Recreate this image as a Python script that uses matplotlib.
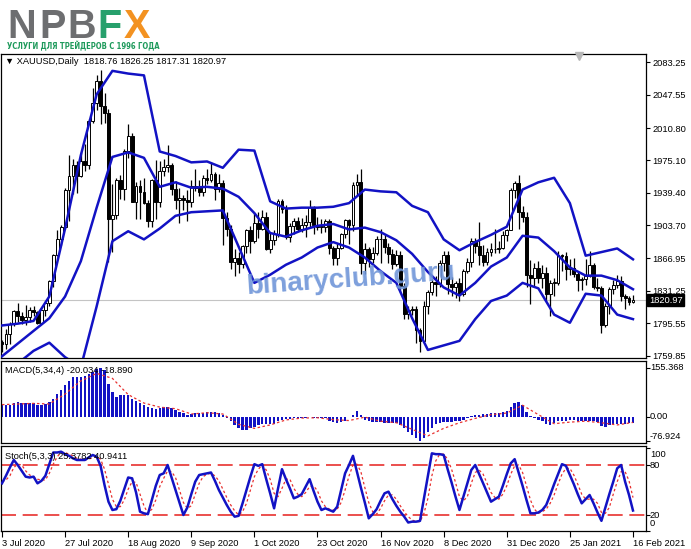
import matplotlib
matplotlib.use('Agg')
import numpy as np
import matplotlib.pyplot as plt
from matplotlib import font_manager
from matplotlib.transforms import blended_transform_factory

plt.rcParams['font.family'] = ['Liberation Sans', 'DejaVu Sans']

#%% DATA — XAUUSD daily, 3 Jul 2020 .. 16 Feb 2021

date_labels = ['3 Jul 2020', '27 Jul 2020', '18 Aug 2020', '9 Sep 2020', '1 Oct 2020',
               '23 Oct 2020', '16 Nov 2020', '8 Dec 2020', '31 Dec 2020', '25 Jan 2021',
               '16 Feb 2021']

opens = [1775, 1772, 1784, 1795, 1809, 1803, 1799, 1802, 1810, 1808,
         1796, 1810, 1818, 1842, 1871, 1888, 1902, 1942, 1958, 1970,
         1958, 1975, 1970, 2019, 2038, 2063, 2035, 2028, 1911, 1915,
         1954, 1944, 1985, 2002, 1929, 1947, 1940, 1928, 1908, 1954,
         1929, 1964, 1968, 1970, 1944, 1931, 1934, 1932, 1929, 1947,
         1945, 1940, 1956, 1954, 1960, 1944, 1950, 1912, 1900, 1863,
         1868, 1861, 1881, 1898, 1886, 1906, 1900, 1913, 1877, 1887,
         1894, 1930, 1922, 1891, 1903, 1908, 1899, 1904, 1907, 1924,
         1904, 1902, 1902, 1908, 1878, 1868, 1878, 1894, 1909, 1904,
         1948, 1951, 1862, 1877, 1866, 1873, 1888, 1888, 1880, 1872,
         1861, 1871, 1837, 1806, 1810, 1811, 1788, 1776, 1815, 1830,
         1841, 1839, 1862, 1871, 1839, 1836, 1840, 1828, 1853, 1863,
         1886, 1881, 1871, 1863, 1874, 1877, 1877, 1879, 1893, 1898,
         1943, 1950, 1918, 1913, 1849, 1845, 1856, 1845, 1851, 1828,
         1840, 1840, 1871, 1870, 1855, 1856, 1850, 1843, 1844, 1848,
         1860, 1835, 1834, 1794, 1814, 1833, 1838, 1842, 1825, 1823,
         1818.76]
highs = [1777, 1789, 1797, 1810, 1818, 1808, 1816, 1813, 1815, 1809,
         1812, 1820, 1843, 1872, 1898, 1904, 1945, 1981, 1977, 1975,
         1984, 1993, 2021, 2055, 2069, 2075, 2050, 2032, 1949, 1956,
         1959, 1988, 2015, 2005, 1951, 1953, 1956, 1932, 1955, 1976,
         1975, 1977, 1992, 1972, 1952, 1945, 1937, 1943, 1953, 1966,
         1953, 1959, 1966, 1973, 1962, 1960, 1953, 1918, 1904, 1877,
         1874, 1882, 1900, 1903, 1917, 1918, 1920, 1918, 1895, 1898,
         1933, 1933, 1926, 1906, 1912, 1913, 1912, 1915, 1931, 1925,
         1913, 1910, 1911, 1911, 1881, 1884, 1895, 1911, 1910, 1951,
         1960, 1966, 1884, 1880, 1880, 1892, 1900, 1894, 1884, 1877,
         1876, 1875, 1840, 1815, 1815, 1814, 1790, 1820, 1832, 1844,
         1848, 1865, 1875, 1875, 1847, 1842, 1845, 1855, 1867, 1890,
         1889, 1907, 1882, 1878, 1884, 1900, 1886, 1897, 1900, 1945,
         1952, 1959, 1925, 1918, 1865, 1862, 1864, 1860, 1858, 1843,
         1845, 1875, 1872, 1874, 1866, 1867, 1853, 1847, 1866, 1875,
         1862, 1845, 1837, 1818, 1835, 1843, 1849, 1848, 1828, 1825,
         1826.25]
lows = [1764, 1767, 1773, 1792, 1797, 1795, 1793, 1797, 1804, 1795,
        1796, 1804, 1815, 1836, 1870, 1882, 1899, 1908, 1938, 1939,
        1957, 1963, 1966, 2016, 2031, 2015, 2016, 1863, 1874, 1910,
        1933, 1932, 1978, 1929, 1911, 1910, 1927, 1902, 1902, 1911,
        1924, 1958, 1962, 1937, 1921, 1906, 1920, 1908, 1924, 1941,
        1936, 1936, 1949, 1951, 1932, 1940, 1882, 1892, 1855, 1848,
        1851, 1856, 1873, 1873, 1884, 1890, 1898, 1876, 1873, 1882,
        1891, 1917, 1888, 1885, 1894, 1897, 1896, 1891, 1901, 1894,
        1898, 1895, 1896, 1872, 1860, 1860, 1877, 1889, 1883, 1897,
        1937, 1850, 1850, 1858, 1862, 1871, 1862, 1873, 1862, 1855,
        1859, 1830, 1800, 1800, 1805, 1774, 1764, 1776, 1806, 1827,
        1826, 1836, 1853, 1828, 1826, 1823, 1820, 1825, 1851, 1858,
        1873, 1860, 1859, 1860, 1870, 1873, 1873, 1877, 1886, 1898,
        1934, 1900, 1907, 1836, 1817, 1836, 1840, 1834, 1820, 1803,
        1826, 1838, 1853, 1843, 1849, 1846, 1831, 1832, 1838, 1846,
        1833, 1831, 1785, 1791, 1806, 1828, 1834, 1820, 1811, 1816,
        1817.31]
closes = [1772, 1784, 1795, 1809, 1803, 1799, 1802, 1810, 1808, 1796,
          1810, 1818, 1842, 1871, 1888, 1902, 1942, 1958, 1970, 1958,
          1975, 1970, 2019, 2038, 2063, 2035, 2028, 1911, 1915, 1954,
          1944, 1985, 2002, 1929, 1947, 1940, 1928, 1908, 1954, 1929,
          1964, 1968, 1970, 1944, 1931, 1934, 1932, 1929, 1947, 1945,
          1940, 1956, 1954, 1960, 1944, 1950, 1912, 1900, 1863, 1868,
          1861, 1881, 1898, 1886, 1906, 1900, 1913, 1877, 1887, 1894,
          1930, 1922, 1891, 1903, 1908, 1899, 1904, 1907, 1924, 1904,
          1902, 1902, 1908, 1878, 1868, 1878, 1894, 1909, 1904, 1948,
          1951, 1862, 1877, 1866, 1873, 1888, 1888, 1880, 1872, 1861,
          1871, 1837, 1806, 1810, 1811, 1788, 1776, 1815, 1830, 1841,
          1839, 1862, 1871, 1839, 1836, 1840, 1828, 1853, 1863, 1886,
          1881, 1871, 1863, 1874, 1877, 1877, 1879, 1893, 1898, 1943,
          1950, 1918, 1913, 1849, 1845, 1856, 1845, 1851, 1828, 1840,
          1840, 1871, 1870, 1855, 1856, 1850, 1843, 1844, 1848, 1860,
          1835, 1834, 1794, 1814, 1833, 1838, 1842, 1825, 1823, 1819,
          1820.97]

# Bollinger bands, read every 4th bar
bb_step = 4
bb_upper = [1793, 1795, 1798, 1825, 1900, 1981, 2048, 2074, 2071, 2069,
            1985, 1980, 1973, 1974, 1967, 1987, 1986, 1930, 1922, 1923,
            1923, 1924, 1928, 1943, 1941, 1940, 1925, 1918, 1888, 1876,
            1885, 1893, 1902, 1943, 1951, 1956, 1928, 1870, 1874, 1878,
            1866]
bb_mid = [1759, 1773, 1787, 1801, 1825, 1864, 1923, 1979, 1984, 1978,
          1946, 1951, 1945, 1946, 1944, 1935, 1917, 1895, 1891, 1898,
          1903, 1905, 1899, 1901, 1896, 1887, 1872, 1852, 1835, 1826,
          1840, 1858, 1868, 1892, 1890, 1875, 1857, 1848, 1848, 1843,
          1833]
bb_lower = [1731, 1751, 1765, 1774, 1758, 1747, 1814, 1886, 1897, 1888,
            1900, 1914, 1918, 1919, 1920, 1880, 1840, 1849, 1860, 1868,
            1879, 1885, 1879, 1868, 1853, 1840, 1801, 1766, 1771, 1776,
            1800, 1820, 1826, 1840, 1834, 1805, 1796, 1828, 1826, 1805,
            1800]

price_ticks = [2083.25, 2047.55, 2010.80, 1975.10, 1939.40, 1903.70,
               1866.95, 1831.25, 1795.55, 1759.85]

# MACD(5,34,4): histogram per bar, signal read every 4th bar
macd_hist = [36, 36, 38, 43, 45, 44, 43, 43, 42, 38,
             38, 40, 47, 57, 72, 86, 101, 115, 125, 127,
             128, 131, 136, 142, 152, 155.368, 149, 104, 78, 64,
             68, 70, 68, 57, 51, 44, 36, 30, 27, 25,
             27, 30, 32, 27, 21, 15, 11, 6, 8, 11,
             11, 12, 15, 15, 15, 12, 6, -6, -15, -27,
             -38, -44, -44, -38, -32, -27, -25, -23, -25, -23,
             -15, -11, -8, -7, -6, -5, -6, -4, -3, -4,
             -4, -4, -6, -13, -19, -21, -19, -15, -2, 6,
             17, 6, -10, -15, -17, -17, -19, -20, -20, -22,
             -22, -27, -38, -49, -59, -68, -76.924, -68, -49, -36,
             -25, -22, -19, -18, -16, -15, -13, -11, -6, 2,
             6, 6, 7, 8, 10, 11, 12, 13, 19, 30,
             44, 45, 38, 15, 2, -5, -10, -15, -25, -26,
             -22, -15, -13, -13, -11, -12, -13, -15, -15, -14,
             -15, -19, -30, -33, -27, -24, -25, -23, -23, -22,
             -20.034]
macd_signal = [38, 40, 42, 40, 72, 114, 138, 122, 70, 43,
               30, 25, 8, 12, 8, -25, -38, -27, -11, -5,
               -4, -10, -13, -2, -15, -20, -41, -62, -38, -20,
               -6, 6, 11, 36, 6, -23, -18, -15, -20, -27,
               -18.89]

# Stochastic(5,3,3)
stoch_main = [58, 67, 77, 86, 80, 73, 66, 65, 66, 58,
              61, 67, 81, 95, 95, 96, 93, 91, 88, 86,
              86, 86, 89, 92, 90, 79, 56, 36, 26, 27,
              37, 51, 65, 64, 47, 24, 22, 21, 38, 55,
              68, 70, 80, 65, 50, 35, 20, 29, 45, 60,
              68, 69, 70, 71, 61, 50, 41, 32, 24, 18,
              19, 34, 50, 66, 81, 79, 81, 63, 46, 28,
              52, 75, 63, 52, 40, 42, 45, 54, 63, 49,
              36, 26, 28, 26, 24, 30, 50, 70, 80, 91,
              72, 53, 35, 16, 21, 27, 37, 46, 48, 39,
              31, 24, 18, 11, 12, 12, 13, 40, 67, 94,
              93, 93, 92, 75, 59, 42, 26, 42, 58, 74,
              80, 69, 58, 47, 36, 39, 42, 55, 69, 82,
              87, 71, 55, 38, 22, 22, 23, 26, 32, 44,
              57, 69, 81, 79, 68, 57, 45, 34, 39, 44,
              34, 23, 13, 29, 45, 60, 76, 80, 60, 44,
              25.3782]
stoch_signal = [60, 62, 67, 77, 81, 80, 73, 68, 66, 63,
                62, 62, 70, 81, 90, 95, 95, 93, 91, 88,
                87, 86, 87, 89, 90, 87, 75, 57, 39, 30,
                30, 38, 51, 60, 59, 45, 31, 22, 27, 38,
                54, 64, 73, 72, 65, 50, 35, 28, 31, 45,
                58, 66, 69, 70, 67, 61, 51, 41, 32, 25,
                20, 24, 34, 50, 66, 75, 80, 74, 63, 46,
                42, 52, 63, 63, 52, 45, 42, 47, 54, 55,
                49, 37, 30, 27, 26, 27, 35, 50, 67, 80,
                81, 72, 53, 35, 24, 21, 28, 37, 44, 44,
                39, 31, 24, 18, 14, 12, 12, 22, 40, 67,
                85, 93, 93, 87, 75, 59, 42, 37, 42, 58,
                71, 74, 69, 58, 47, 41, 39, 45, 55, 69,
                79, 80, 71, 55, 38, 27, 22, 24, 27, 34,
                44, 57, 69, 76, 76, 68, 57, 45, 39, 39,
                39, 34, 23, 22, 29, 45, 60, 72, 72, 61,
                40.9411]

#%% FIGURE

W, H = 691, 549
fig = plt.figure(figsize=(W / 100, H / 100), dpi=100)
fig.patch.set_facecolor('white')

def px_axes(x0, y0, x1, y1):
    return fig.add_axes([x0 / W, 1 - y1 / H, (x1 - x0) / W, (y1 - y0) / H])

ax_p = px_axes(1, 54, 646, 358)
ax_m = px_axes(1, 361, 646, 443)
ax_s = px_axes(1, 446, 646, 531)

BLUE = '#1212c4'
RED = '#e8312f'
FS = 6.7

x = np.arange(len(closes))
bb_x = np.arange(0, len(closes), bb_step)
o, h, l, c = (np.array(v, dtype=float) for v in (opens, highs, lows, closes))

for ax in (ax_p, ax_m, ax_s):
    ax.set_xlim(-0.25, 163.3)
    for sp in ax.spines.values():
        sp.set_color('black')
        sp.set_linewidth(0.9)
    ax.yaxis.tick_right()
    ax.tick_params(axis='y', length=3, width=0.8, pad=1.5, labelsize=FS, colors='black')

# main: candles + bands
up = c >= o
body_lo = np.minimum(o, c)
body_h = np.maximum(np.abs(c - o), 0.8)
ax_p.axhline(c[-1], color='#c4c4c4', lw=0.8, zorder=1)
ax_p.vlines(x, l, h, color='black', lw=0.9, zorder=2)
ax_p.bar(x[up], body_h[up], bottom=body_lo[up], width=0.72,
         facecolor='white', edgecolor='black', linewidth=0.7, zorder=3)
ax_p.bar(x[~up], body_h[~up], bottom=body_lo[~up], width=0.72,
         facecolor='black', edgecolor='black', linewidth=0.7, zorder=3)
for band in (bb_upper, bb_mid, bb_lower):
    ax_p.plot(bb_x, band, color=BLUE, lw=1.8, zorder=4, solid_joinstyle='round')

ax_p.set_ylim(1757.1, 2092.6)
ax_p.set_xticks([])
ax_p.set_yticks(price_ticks)
ax_p.set_yticklabels([f'{v:.2f}' for v in price_ticks])

tp = blended_transform_factory(ax_p.transAxes, ax_p.transData)
ax_p.text(1.0 + 3 / 645, c[-1], f'{c[-1]:.2f}', transform=tp, ha='left', va='center',
          fontsize=FS, color='white',
          bbox=dict(boxstyle='square,pad=0.18', facecolor='black', edgecolor='black'))
ax_p.text(4 / 645, 0.975, '\u25BC XAUUSD,Daily  1818.76 1826.25 1817.31 1820.97',
          transform=ax_p.transAxes, ha='left', va='center', fontsize=FS, color='black')
ax_p.plot([578 / 645], [0.992], transform=ax_p.transAxes, marker='v', ms=6,
          color='#b8b8b8', clip_on=False, zorder=5)

# MACD
ax_m.bar(x, macd_hist, width=0.62, color=BLUE, zorder=2)
ax_m.plot(bb_x, macd_signal, color=RED, lw=0.9, ls=(0, (2, 2)), zorder=3)
ax_m.set_ylim(-84.8, 177.6)
ax_m.set_xticks([])
ax_m.set_yticks([155.368, 0, -76.924])
ax_m.set_yticklabels([])
tm = blended_transform_factory(ax_m.transAxes, ax_m.transData)
for val, lab, dy in [(155.368, '155.368', 0), (0, '0.00', 0), (-76.924, '-76.924', 4)]:
    ax_m.annotate(lab, xy=(1, val), xycoords=tm, xytext=(4, dy), textcoords='offset pixels',
                  ha='left', va='center', fontsize=FS, color='black')
ax_m.text(4 / 645, 0.885, 'MACD(5,34,4) -20.034 -18.890', transform=ax_m.transAxes,
          ha='left', va='center', fontsize=FS, color='black', zorder=5)

# Stochastic
for lvl in (80, 20):
    ax_s.axhline(lvl, color=RED, lw=1.2, dashes=(9, 4), zorder=1)
ax_s.plot(x, stoch_main, color=BLUE, lw=1.8, zorder=3, solid_joinstyle='round')
ax_s.plot(x, stoch_signal, color=RED, lw=0.9, ls=(0, (2, 2)), zorder=2)
ax_s.set_ylim(0.8, 102.8)
ax_s.set_yticks([100, 80, 20, 0.8])
ax_s.set_yticklabels([])
ts = blended_transform_factory(ax_s.transAxes, ax_s.transData)
for val, lab, dy in [(100, '100', -6), (80, '80', 0), (20, '20', 0), (0.8, '0', 7)]:
    ax_s.annotate(lab, xy=(1, val), xycoords=ts, xytext=(4, dy), textcoords='offset pixels',
                  ha='left', va='center', fontsize=FS, color='black')
ax_s.text(4 / 645, 0.88, 'Stoch(5,3,3) 25.3782 40.9411', transform=ax_s.transAxes,
          ha='left', va='center', fontsize=FS, color='black', zorder=5)

ax_s.set_xticks(np.arange(0, len(closes), 16))
ax_s.set_xticklabels(date_labels, ha='left')
ax_s.tick_params(axis='x', length=4, width=0.8, pad=1.5, labelsize=FS, colors='black')

# logo
logo_y = 1 - 38 / H
for letter, xpx, col in [('N', 7, '#6d6e70'), ('P', 39, '#6d6e70'), ('B', 67, '#6d6e70'),
                         ('F', 97, '#27a06c'), ('X', 124, '#f39221')]:
    fig.text(xpx / W, logo_y, letter, fontsize=28.5, fontweight='heavy', color=col,
             ha='left', va='baseline')

# subtitle wants a condensed face; pick one if installed
fams = {f.name: f for f in font_manager.fontManager.ttflist}
sub_kw = dict(family=['Liberation Sans', 'DejaVu Sans'])
if 'Liberation Sans Narrow' in fams:
    sub_kw = dict(family=['Liberation Sans Narrow', 'DejaVu Sans'])
elif any(f.name == 'DejaVu Sans' and f.stretch == 'condensed' for f in font_manager.fontManager.ttflist):
    sub_kw = dict(family=['DejaVu Sans'], fontstretch='condensed')
sub = fig.text(7 / W, 1 - 49.5 / H, 'УСЛУГИ ДЛЯ ТРЕЙДЕРОВ С 1996 ГОДА', fontsize=6.9,
               fontweight='bold', color='#1f9a5c', ha='left', va='baseline', **sub_kw)

# watermark
wm = fig.text(351 / W, 1 - 280 / H, 'binaryclub.guru', fontsize=20, fontweight='bold',
              color='#6f95d8', alpha=0.9, rotation=4, ha='center', va='center', zorder=10)

fig.canvas.draw()
w_sub = sub.get_window_extent().width
sub.set_fontsize(sub.get_fontsize() * 152 / w_sub)

fig.savefig('out.png', dpi=100, facecolor='white')
